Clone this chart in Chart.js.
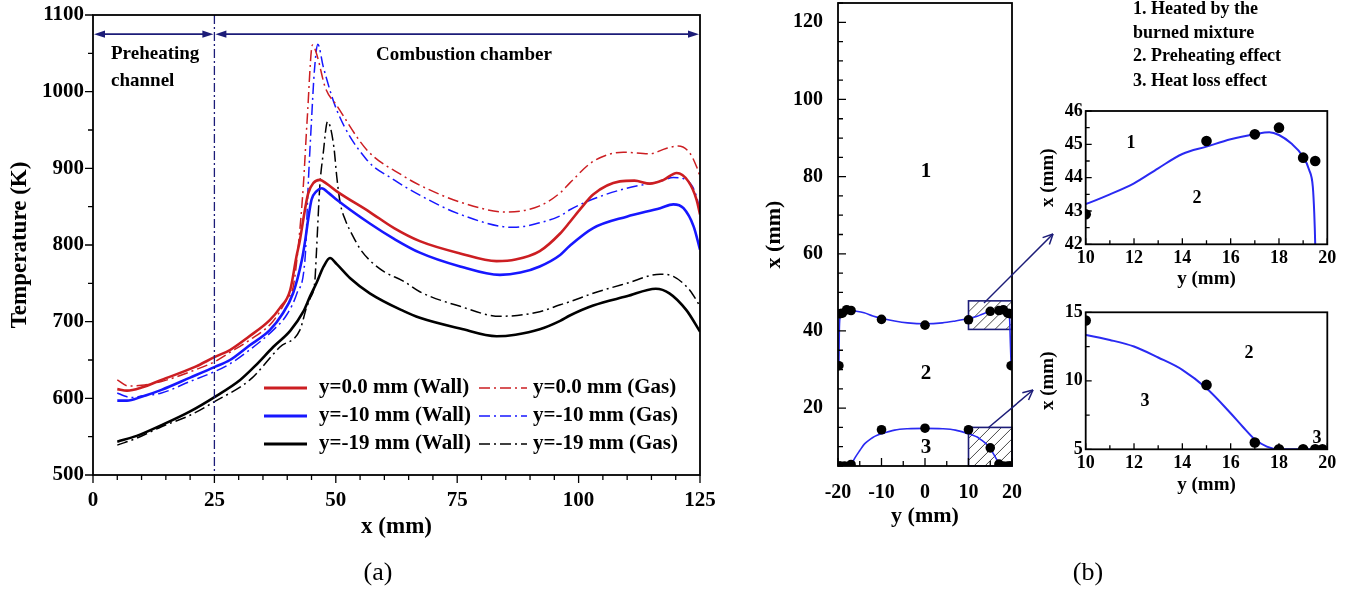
<!DOCTYPE html>
<html>
<head>
<meta charset="utf-8">
<script src="https://cdn.jsdelivr.net/npm/chart.js@4.4.0/dist/chart.umd.min.js"></script>
<style>
  body { margin: 0; background: #fff; width: 1354px; height: 591px; overflow: hidden; position: relative;
         font-family: 'Liberation Serif', 'Times New Roman', serif; }
  canvas { position: absolute; }
  .t { position: absolute; white-space: nowrap; color: #000; line-height: 1; font-weight: bold; }
  .c { transform: translate(-50%, -50%); }
  .l { transform: translate(0, -50%); }
</style>
</head>
<body>
<canvas id="ca" width="740" height="570" style="left:0;top:-20px"></canvas>
<canvas id="cb" width="300" height="580" style="left:750px;top:-40px"></canvas>
<canvas id="cb1" width="320" height="205" style="left:1030px;top:90px"></canvas>
<canvas id="cb2" width="320" height="215" style="left:1030px;top:290px"></canvas>
<svg id="ov" width="1354" height="591" style="position:absolute;left:0;top:0"></svg>
<div id="labels"></div>
<script>
// ---- (a) wall / gas temperature along x, three y positions ----
const xWall0 = [5, 7, 10, 14.1, 21, 25.1, 28.2, 32, 36.4, 38.5, 40.6, 41.9, 42.6, 43.3, 44.3, 45.4, 46.7, 48.1, 50.2, 57, 62, 67.3, 75.6, 83.1, 87, 92, 96.2, 98.2, 100.5, 103, 108.5, 111.5, 114.7, 117.5, 120.2, 122.6, 124.3, 125];
const tWall0 = [612, 610, 614, 624, 641, 654, 663, 680, 702, 718, 741, 785, 806, 833, 867, 881, 885, 880, 870, 843, 822, 805, 789, 779, 781, 792, 815, 830, 848, 866, 883, 884, 880, 885, 894, 883, 859, 840];

const xGas0 = [5, 7.3, 10, 14.1, 21, 25.1, 28.2, 32, 37, 40, 41.25, 42.3, 43.3, 44.1, 45.2, 46.2, 47.8, 50.2, 56.4, 63.9, 67.3, 75.6, 85.2, 92, 96.2, 98.2, 103, 109.2, 114.7, 118, 120.5, 122.9, 124.3, 125];
const tGas0 = [624, 616, 617, 622, 637, 648, 660, 675, 700, 730, 746, 800, 876, 963, 1061, 1046, 1006, 982, 924, 890, 878, 856, 843, 851, 868, 881, 909, 921, 919, 926, 929, 920, 902, 889];

const xWall10 = [5, 7, 10, 14.1, 20, 25.1, 28.2, 32, 36.4, 39, 41.2, 43, 43.7, 44.3, 45, 46, 47.1, 48.5, 50.2, 57, 62, 67.3, 75.6, 83.8, 88, 92, 96.2, 98.2, 103, 109.9, 116.8, 119.5, 121.6, 123.7, 125];
const tWall10 = [597, 597, 602, 611, 627, 641, 650, 668, 689, 710, 737, 780, 806, 833, 859, 870, 874, 868, 859, 828, 808, 790, 772, 761, 764, 772, 787, 799, 822, 837, 848, 853, 848, 824, 794];

const xGas10 = [5, 6.5, 8, 10, 14.1, 20, 25.1, 28.2, 32, 37.1, 40, 42, 43.7, 44.3, 45, 45.6, 46.3, 47.4, 50.2, 56.4, 62, 67.3, 75.6, 86.6, 92, 96.2, 98.2, 103, 109.9, 116.8, 119.5, 122.6, 124.3, 125];
const tGas10 = [607, 603, 601, 603, 607, 622, 635, 645, 662, 689, 710, 737, 785, 876, 963, 1028, 1062, 1033, 976, 911, 885, 865, 840, 823, 829, 838, 846, 860, 874, 883, 888, 883, 863, 843];

const xWall19 = [5, 9, 14.1, 20, 25.1, 30.3, 33.5, 37.1, 40.6, 43.3, 44.7, 46, 47.5, 48.8, 50.2, 52.9, 57, 63.9, 67.3, 75.6, 83.1, 87, 92, 96.2, 98.2, 103, 109.9, 115.9, 118.7, 122.2, 125];
const tWall19 = [543.5, 551, 565, 583, 602, 624, 643, 667, 688, 713, 733, 750, 772, 783, 775, 757, 737, 714, 705, 691, 681, 683, 690, 701, 708, 721, 733, 743, 737, 715, 687];

const xGas19 = [5, 9, 14.1, 20, 25.1, 32.3, 38.5, 42.6, 44, 44.7, 45.7, 46, 46.7, 47.4, 48.3, 49.6, 50.2, 50.9, 52, 53.5, 55, 57, 60, 63.9, 67.3, 75.6, 83.8, 92, 96.2, 98.2, 103, 109.9, 116.8, 119.5, 122.9, 125];
const tGas19 = [539, 548, 563, 578, 596, 624, 667, 689, 719, 730, 754, 789, 876, 919, 961, 928, 889, 855, 832, 812, 795, 780, 765, 753, 739, 720, 707, 713, 722, 726, 737, 750, 762, 759, 741, 720];

const zoneEdge = 25;      // preheating channel / combustion chamber
const arrowLevel = 1075;  // height of the zone arrows (K)

// ---- (b) boundary between zones 1/2/3, y (mm) horizontal, x (mm) vertical ----
const ptY = [-19.8, -19.5, -19, -18, -17, -10, 0, 10, 15, 17, 18, 19, 19.5, 19.8,
             -19.8, -19.5, -18.5, -17, -10, 0, 10, 15, 17, 18, 19, 19.5, 19.8];
const ptX = [31, 44.5, 44.6, 45.5, 45.3, 43, 41.5, 42.9, 45.1, 45.3, 45.5, 44.6, 44.5, 31,
             5, 5, 5, 5.4, 14.4, 14.8, 14.4, 9.7, 5.5, 5, 5, 5, 5];

const topY = [-19.8, -19.7, -19.55, -19.3, -18.8, -18, -17.3, -16, -14, -12, -10, -7, -4, 0, 4, 7, 10, 11, 12, 13, 14, 15, 16, 17, 17.6, 18, 18.5, 19, 19.25, 19.4, 19.46, 19.5, 19.6, 19.8];
const topX = [31, 40, 43.5, 44.4, 45.0, 45.35, 45.35, 45.15, 44.7, 43.9, 43.3, 42.6, 42.1, 41.85, 42.1, 42.6, 43.21, 43.5, 43.83, 44.28, 44.71, 44.93, 45.15, 45.3, 45.36, 45.28, 45.03, 44.63, 44.23, 43.73, 42.93, 42, 38, 31];

const botY = [-17, -16.5, -16, -15, -14, -13, -12, -11, -10, -7, -4, 0, 4, 7, 10, 11, 12, 13, 14, 15, 16, 16.5, 17, 17.5, 18, 19, 19.8];
const botX = [5.3, 6.3, 7.3, 9.0, 10.6, 11.6, 12.4, 12.95, 13.35, 14.3, 14.65, 14.75, 14.65, 14.3, 13.35, 12.98, 12.5, 11.7, 10.8, 9.45, 7.63, 6.65, 5.73, 5.2, 5.0, 5.0, 5.0];

// zoomed regions [yFrom, yTo, xFrom, xTo]
const zoomBoxes = [[10, 20, 40.4, 47.8], [10, 20, 5, 15]];

const RED = '#cc1e22', BLUE = '#1717ff', NAVY = '#1c1c78', CURVE = '#2a2af2';
const DASHDOT = [11, 4, 2, 4];
const FONT = "'Liberation Serif', 'Times New Roman', serif";
Chart.defaults.font.family = FONT;
Chart.defaults.color = '#000';

function pts(xs, ys) { return xs.map((x, i) => ({x: x, y: ys[i]})); }

function line(label, xs, ys, color, dash) {
  return {
    label: label, data: pts(xs, ys), showLine: true, pointRadius: 0,
    borderColor: color, borderWidth: dash.length ? 1.5 : 2.6, borderDash: dash,
    cubicInterpolationMode: 'monotone', fill: false
  };
}

// box around the plot + tick marks (in or out)
function frame(inward, major, minor) {
  return {
    id: 'frame',
    afterDatasetsDraw(chart) {
      const {ctx, chartArea: a} = chart;
      const sx = chart.scales.x, sy = chart.scales.y;
      const d = inward ? 1 : -1;
      ctx.save();
      ctx.strokeStyle = '#000';
      ctx.lineWidth = 1.3;
      ctx.beginPath();
      sx.ticks.forEach((t, i) => {
        const p = sx.getPixelForTick(i), l = t.label === '' ? minor : major;
        ctx.moveTo(p, a.bottom); ctx.lineTo(p, a.bottom - d * l);
      });
      sy.ticks.forEach((t, i) => {
        const p = sy.getPixelForTick(i), l = t.label === '' ? minor : major;
        ctx.moveTo(a.left, p); ctx.lineTo(a.left + d * l, p);
      });
      ctx.stroke();
      ctx.lineWidth = 1.8;
      ctx.strokeRect(a.left, a.top, a.right - a.left, a.bottom - a.top);
      ctx.restore();
    }
  };
}

function axis(min, max, step, every, size, pad, fit, title, tsize, tpad) {
  return {
    type: 'linear', min: min, max: max,
    afterFit: fit,
    grid: {display: false, drawTicks: false}, border: {display: false},
    ticks: {stepSize: step, autoSkip: false, maxRotation: 0, padding: pad,
            font: {size: size, weight: 'bold'},
            callback: v => Math.abs(v / every - Math.round(v / every)) < 1e-6 ? v : ''},
    title: {display: true, text: title, font: {size: tsize, weight: 'bold'}, padding: tpad}
  };
}

function head(ctx, x1, y1, x2, y2) {
  const ang = Math.atan2(y2 - y1, x2 - x1), L = 11, W = 3.6;
  ctx.beginPath();
  ctx.moveTo(x2, y2);
  ctx.lineTo(x2 - L * Math.cos(ang) + W * Math.sin(ang), y2 - L * Math.sin(ang) - W * Math.cos(ang));
  ctx.lineTo(x2 - L * Math.cos(ang) - W * Math.sin(ang), y2 - L * Math.sin(ang) + W * Math.cos(ang));
  ctx.closePath();
  ctx.fill();
}

const annotA = {
  id: 'annotA',
  afterDatasetsDraw(chart) {
    const {ctx, chartArea: a, scales: {x, y}} = chart;
    ctx.save();
    ctx.strokeStyle = NAVY; ctx.fillStyle = NAVY; ctx.lineWidth = 1.3;
    const px = x.getPixelForValue(zoneEdge);
    ctx.setLineDash([9, 3, 2, 3]);
    ctx.beginPath(); ctx.moveTo(px, a.top); ctx.lineTo(px, a.bottom); ctx.stroke();
    ctx.setLineDash([]);
    const py = y.getPixelForValue(arrowLevel);
    const x0 = x.getPixelForValue(x.min), x1 = x.getPixelForValue(x.max);
    [[x0 + 1, px - 1], [px + 1, x1 - 1]].forEach(([p, q]) => {
      ctx.lineWidth = 1.6;
      ctx.beginPath(); ctx.moveTo(p + 4, py); ctx.lineTo(q - 4, py); ctx.stroke();
      head(ctx, q - 10, py, q, py);
      head(ctx, p + 10, py, p, py);
    });
    ctx.restore();
  }
};

// legend rows / columns are in page pixels; canvas (a) sits 20px above the page top
const legRows = [388, 416, 444];
const legendA = {
  id: 'legendA',
  afterDraw(chart) {
    const ctx = chart.ctx;
    ctx.save();
    ctx.translate(0, 20);
    ctx.font = 'bold 21px ' + FONT;
    ctx.textBaseline = 'middle';
    chart.data.datasets.forEach((ds, i) => {
      const col = i % 2, yy = legRows[Math.floor(i / 2)];
      const s = col === 0 ? [264, 307, 319] : [479, 527, 533];
      ctx.strokeStyle = ds.borderColor;
      ctx.lineWidth = ds.borderDash.length ? 1.6 : 3;
      ctx.setLineDash(ds.borderDash);
      ctx.beginPath(); ctx.moveTo(s[0], yy); ctx.lineTo(s[1], yy); ctx.stroke();
      ctx.setLineDash([]);
      ctx.fillStyle = '#000';
      ctx.fillText(ds.label, s[2], yy);
    });
    ctx.restore();
  }
};

new Chart(document.getElementById('ca'), {
  type: 'scatter',
  data: {datasets: [
    line('y=0.0 mm (Wall)', xWall0, tWall0, RED, []),
    line('y=0.0 mm (Gas)', xGas0, tGas0, RED, DASHDOT),
    line('y=-10 mm (Wall)', xWall10, tWall10, BLUE, []),
    line('y=-10 mm (Gas)', xGas10, tGas10, BLUE, DASHDOT),
    line('y=-19 mm (Wall)', xWall19, tWall19, '#000', []),
    line('y=-19 mm (Gas)', xGas19, tGas19, '#000', DASHDOT)
  ]},
  options: {
    responsive: false, animation: false,
    layout: {padding: {left: 0, top: 35, right: 40, bottom: 0}},
    plugins: {legend: {display: false}, tooltip: {enabled: false}},
    scales: {
      x: axis(0, 125, 5, 25, 21, 13, s => { s.height = 75; }, 'x (mm)', 23, {top: 0, bottom: 9}),
      y: axis(500, 1100, 50, 100, 21, 9, s => { s.width = 93; }, 'Temperature (K)', 23, {top: 6, bottom: 0})
    }
  },
  plugins: [annotA, frame(false, 8, 5), legendA]
});

// ---- (b) ----
const boxesB = {
  id: 'boxesB',
  beforeDatasetsDraw(chart) {
    const {ctx, scales: {x, y}} = chart;
    zoomBoxes.forEach(b => {
      const l = x.getPixelForValue(b[0]), r = x.getPixelForValue(b[1]);
      const t = y.getPixelForValue(b[3]), bt = y.getPixelForValue(b[2]);
      const h = bt - t;
      ctx.save();
      ctx.beginPath(); ctx.rect(l, t, r - l, h); ctx.clip();
      ctx.strokeStyle = '#333'; ctx.lineWidth = 0.9;
      ctx.beginPath();
      for (let k = l - h; k < r; k += 11) { ctx.moveTo(k, bt); ctx.lineTo(k + h, t); }
      ctx.stroke();
      ctx.restore();
      ctx.save();
      ctx.strokeStyle = NAVY; ctx.lineWidth = 1.6;
      ctx.strokeRect(l, t, r - l, h);
      ctx.restore();
    });
  }
};

function chartB(id, xr, yr, o) {
  return new Chart(document.getElementById(id), {
    type: 'scatter',
    data: {datasets: [
      {data: pts(ptY, ptX), pointRadius: o.r, pointBackgroundColor: '#000', pointBorderColor: '#000', pointBorderWidth: 0},
      {data: pts(topY, topX), showLine: true, pointRadius: 0, borderColor: CURVE, borderWidth: o.lw, cubicInterpolationMode: 'monotone'},
      {data: pts(botY, botX), showLine: true, pointRadius: 0, borderColor: CURVE, borderWidth: o.lw, cubicInterpolationMode: 'monotone'}
    ]},
    options: {
      responsive: false, animation: false,
      layout: {padding: o.pad},
      plugins: {legend: {display: false}, tooltip: {enabled: false}},
      scales: {
        x: axis(xr[0], xr[1], xr[2], xr[3], o.fs, o.xp, s => { s.height = o.h; }, 'y (mm)', o.ts, {top: 0, bottom: o.tb}),
        y: axis(yr[0], yr[1], yr[2], yr[3], o.fs, o.yp, s => { s.width = o.w; }, 'x (mm)', o.ts, {top: o.tl, bottom: 0})
      }
    },
    plugins: o.boxes ? [boxesB, frame(true, 8, 5)] : [frame(true, 6, 4)]
  });
}

chartB('cb', [-20, 20, 5, 10], [5, 125, 5, 20],
  {r: 4.8, lw: 1.6, pad: {left: 0, top: 43, right: 38, bottom: 0}, w: 88, h: 74, fs: 20, xp: 15, yp: 15, ts: 22, tb: 10, tl: 11, boxes: true});
chartB('cb1', [10, 20, 1, 2], [42, 46, 0.5, 1],
  {r: 5.3, lw: 2, pad: {left: 0, top: 21, right: 22.7, bottom: 0}, w: 55.7, h: 50.7, fs: 18, xp: 3, yp: 3, ts: 19, tb: 4.6, tl: 7});
chartB('cb2', [10, 20, 1, 2], [5, 15, 2.5, 5],
  {r: 5.3, lw: 2, pad: {left: 0, top: 22.3, right: 22.7, bottom: 0}, w: 55.7, h: 55.7, fs: 18, xp: 3, yp: 3, ts: 19, tb: 8.6, tl: 7});

// arrows from the hatched boxes to the insets
const ov = document.getElementById('ov');
function svgLine(x1, y1, x2, y2) {
  const l = document.createElementNS('http://www.w3.org/2000/svg', 'line');
  l.setAttribute('x1', x1); l.setAttribute('y1', y1); l.setAttribute('x2', x2); l.setAttribute('y2', y2);
  l.setAttribute('stroke', NAVY); l.setAttribute('stroke-width', 1.5);
  ov.appendChild(l);
}
function svgArrow(x1, y1, x2, y2) {
  svgLine(x1, y1, x2, y2);
  const a = Math.atan2(y2 - y1, x2 - x1);
  [0.45, -0.45].forEach(d => svgLine(x2, y2, x2 - 11 * Math.cos(a + d), y2 - 11 * Math.sin(a + d)));
}
svgArrow(984, 303, 1053, 234);
svgArrow(988, 428, 1033, 390);

// free text
const texts = [
  ['Preheating', 111, 52, 19, 'l', 'bold'],
  ['channel', 111, 79, 19, 'l', 'bold'],
  ['Combustion chamber', 464, 53, 19, 'c', 'bold'],
  ['1', 926, 170, 21, 'c', 'bold'],
  ['2', 926, 372, 21, 'c', 'bold'],
  ['3', 926, 446, 21, 'c', 'bold'],
  ['1', 1131, 142, 18, 'c', 'bold'],
  ['2', 1197, 197, 18, 'c', 'bold'],
  ['2', 1249, 352, 18, 'c', 'bold'],
  ['3', 1145, 400, 18, 'c', 'bold'],
  ['3', 1317, 437, 18, 'c', 'bold'],
  ['1. Heated by the', 1133, 8, 18, 'l', 'bold'],
  ['burned mixture', 1133, 32, 18, 'l', 'bold'],
  ['2. Preheating effect', 1133, 55, 18, 'l', 'bold'],
  ['3. Heat loss effect', 1133, 80, 18, 'l', 'bold'],
  ['(a)', 378, 572, 26, 'c', 'normal'],
  ['(b)', 1088, 572, 26, 'c', 'normal']
];
const box = document.getElementById('labels');
texts.forEach(([s, x, y, f, al, w]) => {
  const d = document.createElement('div');
  d.className = 't ' + al;
  d.textContent = s;
  d.style.left = x + 'px'; d.style.top = y + 'px';
  d.style.fontSize = f + 'px'; d.style.fontWeight = w;
  box.appendChild(d);
});
</script>
</body>
</html>
